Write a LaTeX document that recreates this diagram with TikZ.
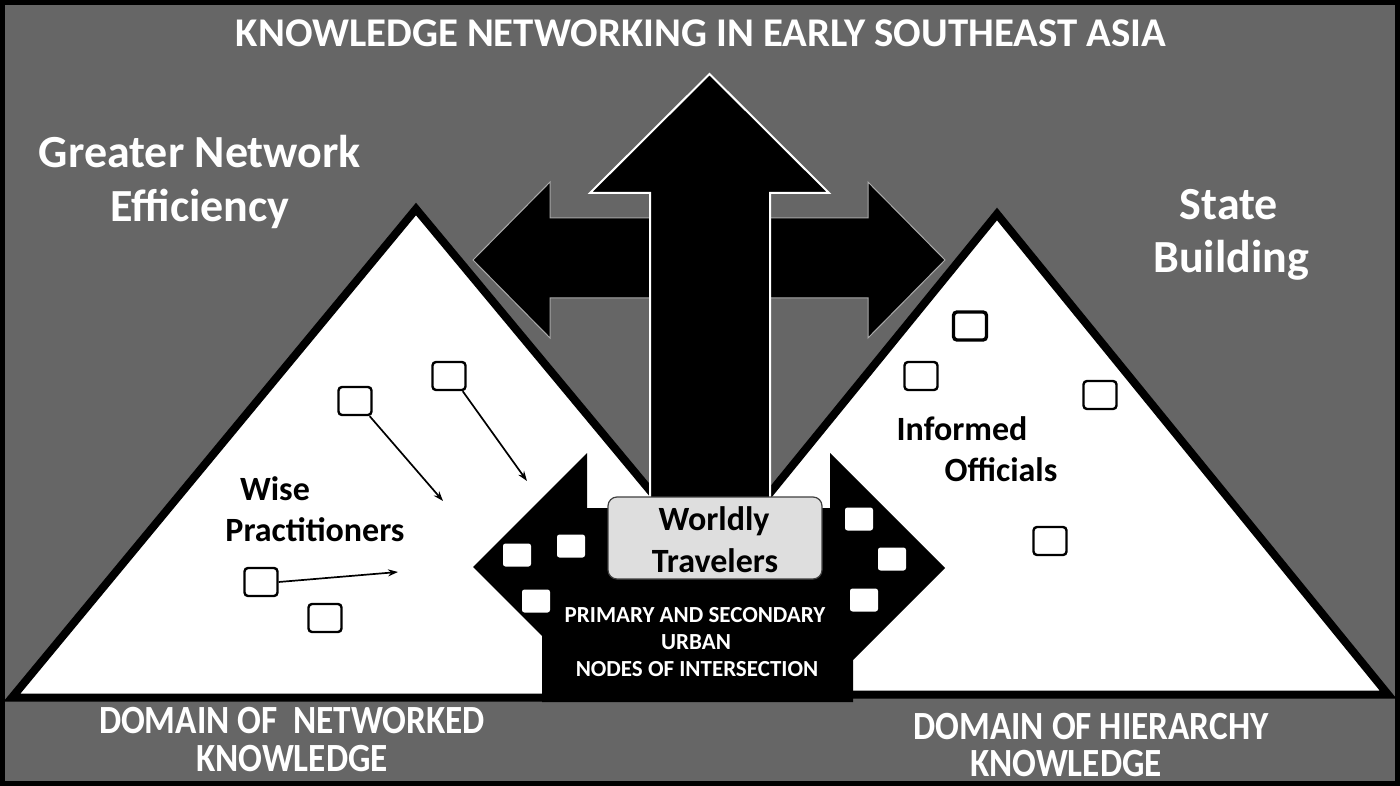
\documentclass[tikz,border=0pt]{standalone}
\usepackage{fontspec}
\setmainfont{Carlito}
\usetikzlibrary{arrows.meta}
\definecolor{bg}{RGB}{102,102,102}
\definecolor{boxfill}{RGB}{222,222,222}
\definecolor{edgegray}{RGB}{170,170,170}
\begin{document}
\begin{tikzpicture}[x=1pt,y=-1pt,
  sq/.style={draw=black,line width=2.4pt,fill=white,rounded corners=3.5pt,minimum width=33pt,minimum height=28pt,inner sep=0pt},
  wsq/.style={fill=white,rounded corners=2.5pt,minimum width=28pt,minimum height=23pt,inner sep=0pt},
  tri/.style={draw=black,line width=8pt,fill=white,miter limit=10,line join=miter},
  arr/.style={-{Stealth[length=10pt,width=7pt]},line width=1.7pt},
  bigw/.style={text=white,font=\bfseries\fontsize{46}{50}\selectfont,anchor=base,inner sep=0pt},
  titlew/.style={text=white,font=\bfseries\fontsize{40.8}{44}\selectfont,anchor=base,inner sep=0pt},
  blk/.style={text=black,font=\bfseries\fontsize{34}{38}\selectfont,anchor=base,inner sep=0pt},
  smallw/.style={text=white,font=\bfseries\fontsize{23}{26}\selectfont,anchor=base,inner sep=0pt},
  domw/.style={text=white,font=\bfseries\fontsize{40}{44}\selectfont,anchor=base,inner sep=0pt},
  wbox/.style={draw=black!75,line width=1.2pt,fill=boxfill,rounded corners=9pt,minimum width=214pt,minimum height=82pt,inner sep=0pt}
]
\useasboundingbox (0,0) rectangle (1400,786);
% background and frame
\fill[bg] (0,0) rectangle (1400,786);

% triangles
\draw[tri] (416,209) -- (12,697.5) -- (822,697.5) -- cycle;
\draw[tri] (997,214) -- (606,694.5) -- (1388,694.5) -- cycle;

% horizontal arrows
\filldraw[fill=black,draw=edgegray,line width=1pt]
  (660,218) -- (550,218) -- (550,182) -- (473,260) -- (550,338) -- (550,298) -- (660,298) -- cycle;
\filldraw[fill=black,draw=edgegray,line width=1pt]
  (760,218) -- (868,218) -- (868,182) -- (945,260) -- (868,338) -- (868,298) -- (760,298) -- cycle;
% up arrow
\filldraw[fill=black,draw=white,line width=2pt]
  (650,510) -- (650,193) -- (590,193) -- (709.5,74) -- (829,193) -- (770,193) -- (770,510) -- cycle;

% central double arrow shape
\fill[black] (542,702) -- (542,636) -- (473,567) -- (587,453) -- (587,508) -- (830,508)
  -- (830,453) -- (945,568) -- (853,660) -- (853,702) -- cycle;

% Worldly Travelers box
\node[wbox] (wt) at (715,538) {};
\node[blk] (wt1) at (714,530) {Worldly};
\node[blk] (wt2) at (715,572) {Travelers};

% white squares in central shape
\node[wsq] (c1) at (517,555) {};
\node[wsq] (c2) at (571,546) {};
\node[wsq] (c3) at (536,601) {};
\node[wsq] (c4) at (859,519) {};
\node[wsq] (c5) at (892,559) {};
\node[wsq] (c6) at (864,600) {};

% central labels
\node[smallw] (pu1) at (695,622) {PRIMARY AND SECONDARY};
\node[smallw] (pu2) at (696,649) {URBAN};
\node[smallw] (pu3) at (697,676) {NODES OF INTERSECTION};

% left triangle squares and arrows
\node[sq] (s1) at (355,401) {};
\node[sq] (s2) at (449,376) {};
\node[sq] (s3) at (261,582) {};
\node[sq] (s4) at (325,618) {};
\coordinate (e1) at (443,501);
\coordinate (e2) at (527,481);
\coordinate (e3) at (398,572);
\path (s1.south east) ++(-3,0) coordinate (b1);
\path (s2.south east) ++(-4,0) coordinate (b2);
\draw[arr] (b1) -- (e1);
\draw[arr] (b2) -- (e2);
\draw[arr] (s3.east) -- (e3);

% right triangle squares
\node[sq,line width=3.4pt] (r1) at (970,326) {};
\node[sq] (r2) at (921,376) {};
\node[sq] (r3) at (1100,395) {};
\node[sq] (r4) at (1050,541) {};

% frame
\draw[black,line width=5pt] (2.5,2.5) rectangle (1397.5,783.5);

% texts
\node[titlew] (title) at (701,47) {KNOWLEDGE NETWORKING IN EARLY SOUTHEAST ASIA};
\node[bigw] (gn1) at (200,168) {Greater Network};
\node[bigw] (gn2) at (200,222) {Efficiency};
\node[bigw] (sb1) at (1229,220) {State};
\node[bigw] (sb2) at (1231,273) {Building};
\node[blk] (wp1) at (275,500) {Wise};
\node[blk] (wp2) at (315,541) {Practitioners};
\node[blk] (io1) at (962,440) {Informed};
\node[blk] (io2) at (1001,481) {Officials};
\node[domw] (dn1) at (292,733) {\scalebox{0.88}[1]{DOMAIN OF~ NETWORKED}};
\node[domw] (dn2) at (292,771) {\scalebox{0.88}[1]{KNOWLEDGE}};
\node[domw] (dh1) at (1091,739) {\scalebox{0.88}[1]{DOMAIN OF HIERARCHY}};
\node[domw] (dh2) at (1066,776) {\scalebox{0.88}[1]{KNOWLEDGE}};
\end{tikzpicture}
\end{document}
